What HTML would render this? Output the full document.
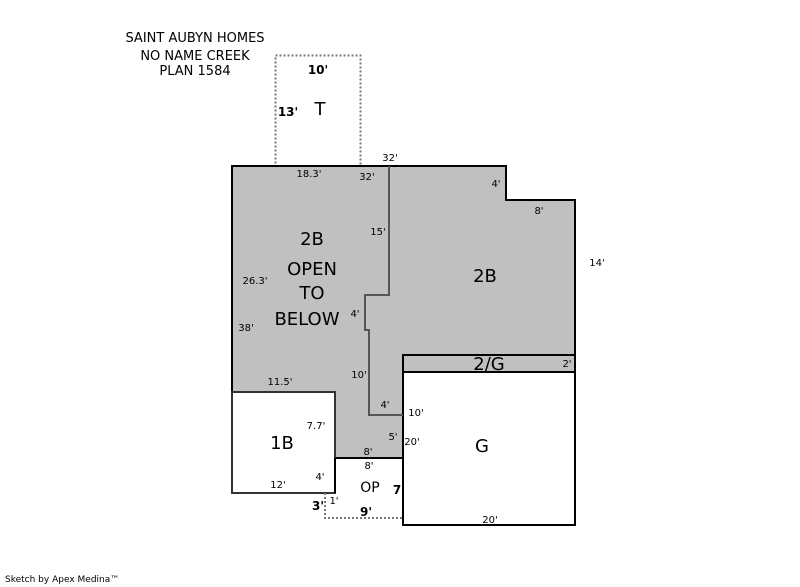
<!DOCTYPE html><html><head><style>body{margin:0;background:#fff}svg{display:block}text{font-family:"DejaVu Sans","Liberation Sans",sans-serif;fill:#000}</style></head><body>
<svg width="800" height="587" viewBox="0 0 800 587">
<rect width="800" height="587" fill="#fff"/>
<text x="195" y="42" font-size="13" text-anchor="middle">SAINT AUBYN HOMES</text>
<text x="195" y="60" font-size="13" text-anchor="middle">NO NAME CREEK</text>
<text x="195" y="75" font-size="13" text-anchor="middle">PLAN 1584</text>
<rect x="275.5" y="55.5" width="85" height="111" fill="none" stroke="#777" stroke-width="2" stroke-dasharray="2,2"/>
<text x="318" y="74" font-size="12" font-weight="bold" text-anchor="middle">10'</text>
<text x="288" y="116" font-size="12" font-weight="bold" text-anchor="middle">13'</text>
<text x="320" y="115" font-size="18" text-anchor="middle">T</text>
<path d="M232,166 H506 V200 H575 V355 H403 V458 H330 V392 H232 Z" fill="#c0c0c0" stroke="#000" stroke-width="2"/>
<rect x="403" y="355" width="172" height="17" fill="#c0c0c0" stroke="#000" stroke-width="2"/>
<line x1="403" y1="372" x2="575" y2="372" stroke="#555" stroke-width="2"/>
<rect x="403" y="372" width="172" height="153" fill="#fff" stroke="#000" stroke-width="2"/>
<line x1="403" y1="356" x2="403" y2="525" stroke="#000" stroke-width="2"/>
<path d="M389,166 V295 H365 V330 H369 V415 H403" fill="none" stroke="#555" stroke-width="2"/>
<rect x="232" y="392" width="103" height="101" fill="#fff" stroke="#333" stroke-width="2"/>
<path d="M325,493 V518 H403" fill="none" stroke="#777" stroke-width="2" stroke-dasharray="2,2"/>
<path d="M335,458 V493" stroke="#000" stroke-width="2"/>
<g font-size="10">
<text x="390" y="161" text-anchor="middle">32'</text>
<text x="309" y="177" text-anchor="middle">18.3'</text>
<text x="367" y="180" text-anchor="middle">32'</text>
<text x="496" y="187" text-anchor="middle">4'</text>
<text x="539" y="214" text-anchor="middle">8'</text>
<text x="597" y="266" text-anchor="middle">14'</text>
<text x="378" y="235" text-anchor="middle">15'</text>
<text x="255" y="284" text-anchor="middle">26.3'</text>
<text x="355" y="317" text-anchor="middle">4'</text>
<text x="246" y="331" text-anchor="middle">38'</text>
<text x="359" y="378" text-anchor="middle">10'</text>
<text x="280" y="385" text-anchor="middle">11.5'</text>
<text x="567" y="367" text-anchor="middle">2'</text>
<text x="385" y="408" text-anchor="middle">4'</text>
<text x="416" y="416" text-anchor="middle">10'</text>
<text x="316" y="429" text-anchor="middle">7.7'</text>
<text x="393" y="440" text-anchor="middle">5'</text>
<text x="412" y="445" text-anchor="middle">20'</text>
<text x="368" y="455" text-anchor="middle">8'</text>
<text x="369" y="469" text-anchor="middle">8'</text>
<text x="320" y="480" text-anchor="middle">4'</text>
<text x="278" y="488" text-anchor="middle">12'</text>
<text x="334" y="504" text-anchor="middle">1'</text>
<text x="490" y="523" text-anchor="middle">20'</text>
</g>
<text x="318" y="510" font-size="12" font-weight="bold" text-anchor="middle">3'</text>
<text x="366" y="516" font-size="12" font-weight="bold" text-anchor="middle">9'</text>
<text x="397" y="494" font-size="12" font-weight="bold" text-anchor="middle">7</text>
<g font-size="18" text-anchor="middle">
<text x="312" y="245">2B</text>
<text x="312" y="275">OPEN</text>
<text x="312" y="299">TO</text>
<text x="307" y="325">BELOW</text>
<text x="485" y="282">2B</text>
<text x="489" y="370">2/G</text>
<text x="282" y="449">1B</text>
<text x="482" y="452">G</text>
</g>
<text x="370" y="492" font-size="14" text-anchor="middle">OP</text>
<text x="5" y="582" font-size="9">Sketch by Apex Medina™</text>
</svg></body></html>
